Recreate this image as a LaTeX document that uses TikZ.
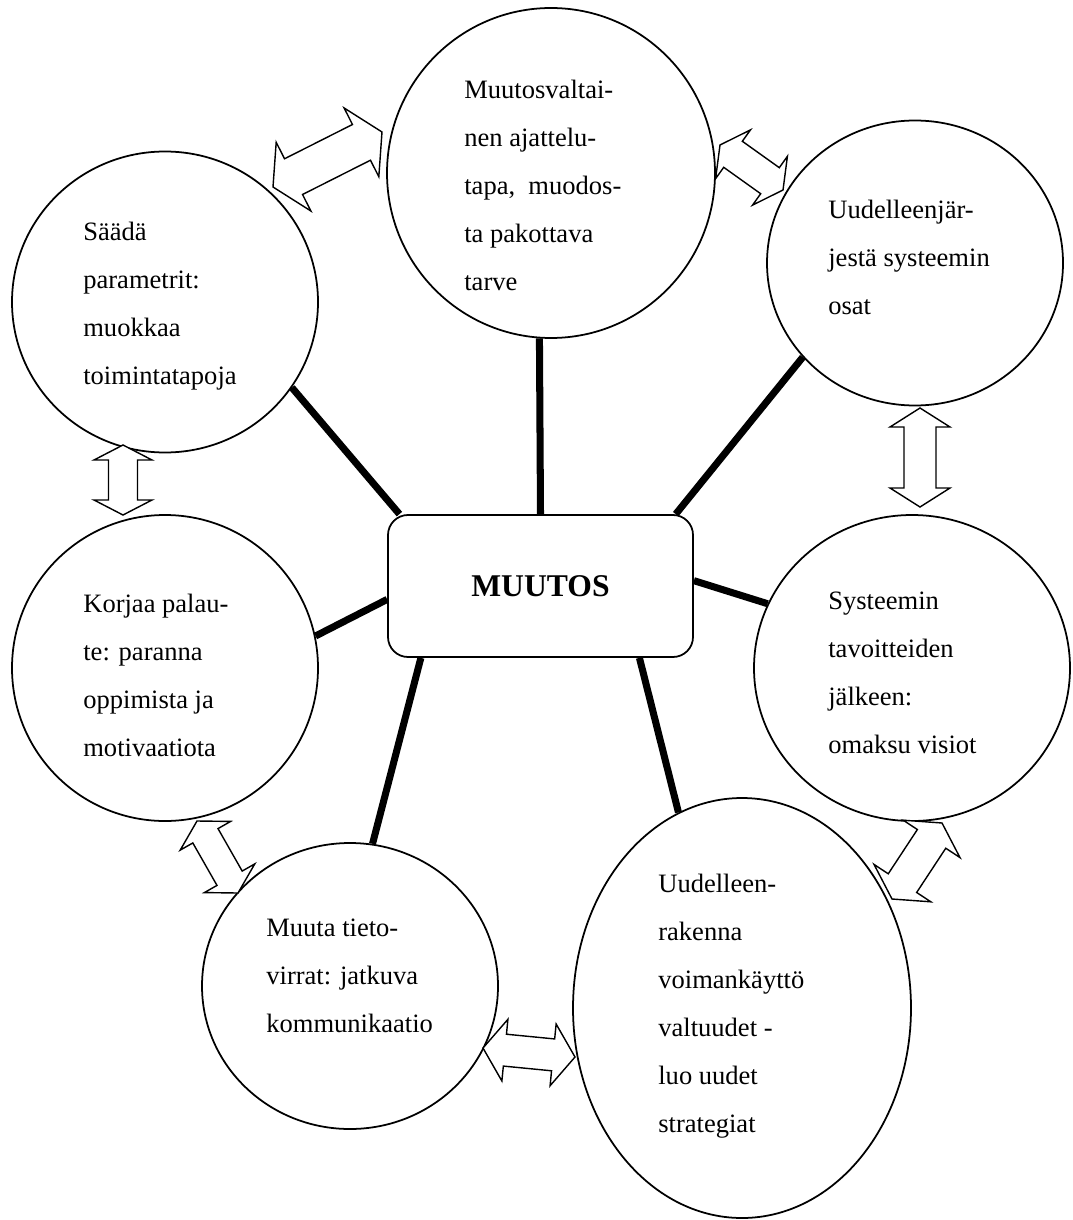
\documentclass[tikz,border=0pt]{standalone}
\usepackage{fontspec}
\setmainfont{Liberation Serif}
\usetikzlibrary{shapes.geometric,calc}

\tikzstyle{circ}=[draw,ellipse,line width=1pt,inner sep=0pt]
\tikzstyle{txt}=[align=left,inner sep=0pt,anchor=north west,font=\fontsize{15.1}{27.3}\selectfont]
\tikzstyle{hub}=[draw,rectangle,rounded corners=0.4cm,line width=1pt,minimum width=6.1cm,minimum height=2.84cm,font=\fontsize{18}{22}\selectfont\bfseries]
\tikzstyle{spoke}=[line width=4pt]
\tikzstyle{dbl}=[draw,fill=white,line width=0.8pt,line join=miter]

% hollow double arrow: from, to, head length, head half width, shaft half width
\newcommand{\dblarrow}[5]{%
  \path[dbl] let \p1=($(#2)-(#1)$), \n1={atan2(\y1,\x1)} in
    (#1) -- ($(#1)+(\n1:#3)+(\n1+90:#4)$) -- ($(#1)+(\n1:#3)+(\n1+90:#5)$)
    -- ($(#2)+(\n1:-#3)+(\n1+90:#5)$) -- ($(#2)+(\n1:-#3)+(\n1+90:#4)$)
    -- (#2) -- ($(#2)+(\n1:-#3)+(\n1-90:#4)$) -- ($(#2)+(\n1:-#3)+(\n1-90:#5)$)
    -- ($(#1)+(\n1:#3)+(\n1-90:#5)$) -- ($(#1)+(\n1:#3)+(\n1-90:#4)$) -- cycle;}

\begin{document}
\begin{tikzpicture}
  \useasboundingbox (0,0) rectangle (21.46,-24.40);

  \node[hub] (muutos) at (10.81,-11.72) {MUUTOS};

  \node[circ,minimum width=6.56cm,minimum height=6.60cm] (muutosval) at (11.02,-3.46) {};
  \node[circ,minimum width=6.12cm,minimum height=6.02cm] (saada) at (3.30,-6.04) {};
  \node[circ,minimum width=5.92cm,minimum height=5.70cm] (jarjesta) at (18.30,-5.26) {};
  \node[circ,minimum width=6.12cm,minimum height=6.12cm] (korjaa) at (3.30,-13.36) {};
  \node[circ,minimum width=6.32cm,minimum height=6.12cm] (tavoite) at (18.24,-13.36) {};
  \node[circ,minimum width=5.92cm,minimum height=5.72cm] (tieto) at (7.00,-19.72) {};
  \node[circ,minimum width=6.76cm,minimum height=8.40cm] (rakenna) at (14.84,-20.16) {};

  \node[txt] (muutosvaltxt) at (9.28,-1.60) {Muutosvaltai-\\nen ajattelu-\\tapa,\ \ muodos-\\ta pakottava\\tarve};
  \node[txt] (saadatxt) at (1.66,-4.44) {Säädä\\parametrit:\\muokkaa\\toimintatapoja};
  \node[txt] (jarjestatxt) at (16.56,-4.00) {Uudelleenjär-\\jestä systeemin\\osat};
  \node[txt] (korjaatxt) at (1.66,-11.88) {Korjaa palau-\\te: paranna\\oppimista ja\\motivaatiota};
  \node[txt] (tavoitetxt) at (16.56,-11.84) {Systeemin\\tavoitteiden\\jälkeen:\\omaksu visiot};
  \node[txt] (tietotxt) at (5.32,-18.38) {Muuta tieto-\\virrat: jatkuva\\kommunikaatio};
  \node[txt] (rakennatxt) at (13.16,-17.48) {Uudelleen-\\rakenna\\voimankäyttö\\valtuudet -\\luo uudet\\strategiat};

  \path (muutos.north) edge [spoke] (muutosval.266);
  \path (muutos.153) edge [spoke] (saada.-34);
  \path (muutos.28) edge [spoke] (jarjesta.220);
  \path (muutos.185) edge [spoke] (korjaa.12);
  \path (muutos.2) edge [spoke] (tavoite.156);
  \path (muutos.211) edge [spoke] (tieto.81);
  \path (muutos.324) edge [spoke] (rakenna.108);

  \coordinate (ar1a) at (5.46,-3.74);   \coordinate (ar1b) at (7.64,-2.64);
  \coordinate (ar2a) at (14.40,-2.90);  \coordinate (ar2b) at (15.66,-3.80);
  \coordinate (ar3a) at (2.46,-8.90);   \coordinate (ar3b) at (2.46,-10.30);
  \coordinate (ar4a) at (18.40,-8.16);  \coordinate (ar4b) at (18.40,-10.14);
  \coordinate (ar5a) at (3.94,-16.42);  \coordinate (ar5b) at (4.76,-17.86);
  \coordinate (ar6a) at (18.84,-16.46); \coordinate (ar6b) at (17.84,-17.98);
  \coordinate (ar7a) at (9.66,-20.96);  \coordinate (ar7b) at (11.50,-21.14);

  \dblarrow{ar1a}{ar1b}{0.46cm}{0.77cm}{0.40cm}
  \dblarrow{ar2a}{ar2b}{0.32cm}{0.60cm}{0.32cm}
  \dblarrow{ar3a}{ar3b}{0.30cm}{0.58cm}{0.29cm}
  \dblarrow{ar4a}{ar4b}{0.38cm}{0.60cm}{0.32cm}
  \dblarrow{ar5a}{ar5b}{0.34cm}{0.58cm}{0.29cm}
  \dblarrow{ar6a}{ar6b}{0.38cm}{0.68cm}{0.34cm}
  \dblarrow{ar7a}{ar7b}{0.44cm}{0.62cm}{0.32cm}
\end{tikzpicture}
\end{document}
